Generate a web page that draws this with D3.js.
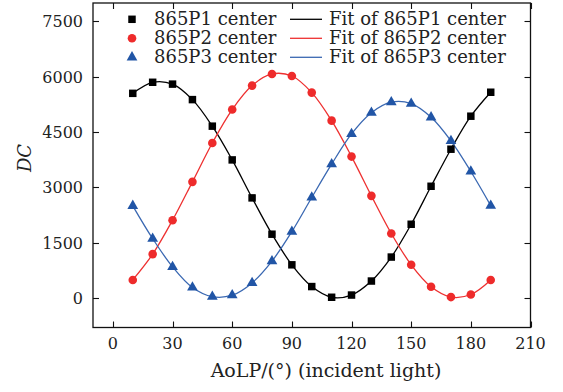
<!DOCTYPE html>
<html>
<head>
<meta charset="utf-8">
<script src="https://cdn.jsdelivr.net/npm/d3@7"></script>
<style>
  html, body { margin: 0; padding: 0; background: #fff; }
  svg text { font-family: "DejaVu Serif", "Liberation Serif", serif; fill: #222; }
</style>
</head>
<body>
<svg id="chart" width="563" height="392"></svg>
<script>
// ── data ──
var angles = [10, 20, 30, 40, 50, 60, 70, 80, 90, 100, 110, 120, 130, 140, 150, 160, 170, 180, 190];
var p1 = [5550, 5850, 5800, 5380, 4660, 3745, 2715, 1730, 900, 310, 20, 80, 460, 1110, 2000, 3030, 4035, 4930, 5580];
var p2 = [490, 1190, 2110, 3150, 4205, 5110, 5760, 6075, 6020, 5570, 4810, 3835, 2770, 1750, 900, 305, 25, 95, 490];
var p3 = [2500, 1610, 845, 285, 35, 75, 410, 1000, 1800, 2725, 3630, 4450, 5025, 5310, 5270, 4900, 4260, 3430, 2505];
var xTicks = [0, 30, 60, 90, 120, 150, 180, 210];
var yTicks = [0, 1500, 3000, 4500, 6000, 7500];
var seriesNames = ['865P1 center', '865P2 center', '865P3 center'];

(function () {
  'use strict';
  var svg = d3.select('#chart');
  var L = 93, R = 530.5, T = 3, B = 327.5;

  var x = d3.scaleLinear().domain([-10, 210]).range([L, R]);
  var y = d3.scaleLinear().domain([-800, 8000]).range([B, T]);

  var series = [
    { name: seriesNames[0], vals: p1, fill: '#000', line: '#000', shape: 'square' },
    { name: seriesNames[1], vals: p2, fill: '#ee2b2b', line: '#ee3030', shape: 'circle' },
    { name: seriesNames[2], vals: p3, fill: '#2155a6', line: '#3a68b2', shape: 'triangle' }
  ];

  // frame + ticks (inward on all four sides)
  var g = svg.append('g');
  var tk = 6;
  g.append('rect').attr('x', L).attr('y', T).attr('width', R - L).attr('height', B - T)
    .attr('fill', 'none').attr('stroke', '#111').attr('stroke-width', 1.3);

  xTicks.forEach(function (v) {
    var px = Math.round(x(v)) + 0.5;
    g.append('line').attr('x1', px).attr('x2', px).attr('y1', B).attr('y2', B - tk).attr('stroke', '#111').attr('stroke-width', 1.1);
    g.append('line').attr('x1', px).attr('x2', px).attr('y1', T).attr('y2', T + tk).attr('stroke', '#111').attr('stroke-width', 1.1);
    g.append('text').attr('x', x(v)).attr('y', 349).attr('text-anchor', 'middle')
      .style('font-size', '16px').text(v);
  });
  yTicks.forEach(function (v) {
    var py = Math.round(y(v)) + 0.5;
    g.append('line').attr('x1', L).attr('x2', L + tk).attr('y1', py).attr('y2', py).attr('stroke', '#111').attr('stroke-width', 1.1);
    g.append('line').attr('x1', R).attr('x2', R - tk).attr('y1', py).attr('y2', py).attr('stroke', '#111').attr('stroke-width', 1.1);
    g.append('text').attr('x', 83).attr('y', y(v) + 6).attr('text-anchor', 'end')
      .style('font-size', '16px').text(v);
  });

  // axis titles
  svg.append('text').attr('x', 326).attr('y', 377).attr('text-anchor', 'middle')
    .style('font-size', '19px').text('AoLP/(°) (incident light)');
  svg.append('text').attr('transform', 'translate(31,158) rotate(-90)').attr('text-anchor', 'middle')
    .style('font-size', '18px').style('font-style', 'italic').text('DC');

  // fit curves and markers
  var line = d3.line().x(function (d) { return x(d[0]); }).y(function (d) { return y(d[1]); })
    .curve(d3.curveCatmullRom.alpha(0.5));

  var symOf = { square: d3.symbolSquare, circle: d3.symbolCircle, triangle: d3.symbolTriangle };
  var sizeOf = { square: 56, circle: 58, triangle: 50 };

  series.forEach(function (s) {
    var pts = angles.map(function (a, i) { return [a, s.vals[i]]; });
    svg.append('path').datum(pts).attr('d', line).attr('fill', 'none')
      .attr('stroke', s.line).attr('stroke-width', 1.3);
  });
  series.forEach(function (s) {
    var sym = d3.symbol().type(symOf[s.shape]).size(sizeOf[s.shape]);
    svg.append('g').selectAll('path').data(angles).join('path')
      .attr('d', sym)
      .attr('transform', function (a, i) { return 'translate(' + x(a) + ',' + y(s.vals[i]) + ')'; })
      .attr('fill', s.fill);
  });

  // legend
  var lg = svg.append('g');
  series.forEach(function (s, i) {
    var ly = 19.3 + i * 19;
    var sym = d3.symbol().type(symOf[s.shape]).size(sizeOf[s.shape]);
    lg.append('path').attr('d', sym).attr('transform', 'translate(132,' + ly + ')').attr('fill', s.fill);
    lg.append('text').attr('x', 154).attr('y', ly + 5.5).style('font-size', '18px').text(s.name);
    lg.append('line').attr('x1', 290).attr('x2', 322).attr('y1', ly).attr('y2', ly)
      .attr('stroke', s.line).attr('stroke-width', 1.3);
    lg.append('text').attr('x', 329).attr('y', ly + 5.5).style('font-size', '18px').text('Fit of ' + s.name);
  });
})();
</script>
</body>
</html>
